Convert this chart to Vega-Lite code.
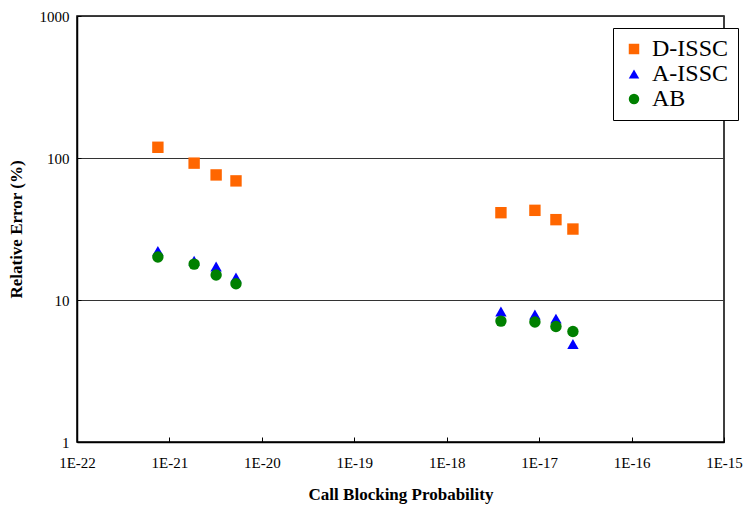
{
  "$schema": "https://vega.github.io/schema/vega-lite/v6.json",
  "width": 647,
  "height": 426,
  "autosize": "none",
  "padding": {"left": 77, "top": 16, "right": 22, "bottom": 67},
  "background": "white",
  "config": {
    "font": "Liberation Serif",
    "view": {"stroke": "black", "strokeWidth": 1.5}
  },
  "data": {
    "values": [
      {"series": "D-ISSC", "p": 7.5e-22, "err": 119},
      {"series": "D-ISSC", "p": 1.85e-21, "err": 92},
      {"series": "D-ISSC", "p": 3.2e-21, "err": 76},
      {"series": "D-ISSC", "p": 5.25e-21, "err": 69},
      {"series": "D-ISSC", "p": 3.86e-18, "err": 41.2},
      {"series": "D-ISSC", "p": 9.0e-18, "err": 42.8},
      {"series": "D-ISSC", "p": 1.52e-17, "err": 36.8},
      {"series": "D-ISSC", "p": 2.32e-17, "err": 31.6},
      {"series": "A-ISSC", "p": 7.5e-22, "err": 22.2},
      {"series": "A-ISSC", "p": 1.85e-21, "err": 18.9},
      {"series": "A-ISSC", "p": 3.2e-21, "err": 17.2},
      {"series": "A-ISSC", "p": 5.25e-21, "err": 14.4},
      {"series": "A-ISSC", "p": 3.86e-18, "err": 8.3},
      {"series": "A-ISSC", "p": 9.0e-18, "err": 7.9},
      {"series": "A-ISSC", "p": 1.52e-17, "err": 7.4},
      {"series": "A-ISSC", "p": 2.32e-17, "err": 4.9},
      {"series": "AB", "p": 7.5e-22, "err": 20.1},
      {"series": "AB", "p": 1.85e-21, "err": 17.9},
      {"series": "AB", "p": 3.2e-21, "err": 15.0},
      {"series": "AB", "p": 5.25e-21, "err": 13.0},
      {"series": "AB", "p": 3.86e-18, "err": 7.1},
      {"series": "AB", "p": 9.0e-18, "err": 7.0},
      {"series": "AB", "p": 1.52e-17, "err": 6.5},
      {"series": "AB", "p": 2.32e-17, "err": 6.0}
    ]
  },
  "mark": {"type": "point", "filled": true, "opacity": 1, "size": 130},
  "encoding": {
    "x": {
      "field": "p",
      "type": "quantitative",
      "scale": {"type": "log", "domain": [1e-22, 1e-15], "nice": false},
      "axis": {
        "title": "Call Blocking Probability",
        "titleFont": "Liberation Serif",
        "titleFontSize": 17,
        "titleFontWeight": "bold",
        "titleColor": "black",
        "titlePadding": 16,
        "values": [1e-22, 1e-21, 1e-20, 1e-19, 1e-18, 1e-17, 1e-16, 1e-15],
        "labelExpr": "'1E' + round(log(datum.value)/LN10)",
        "labelFont": "Liberation Serif",
        "labelFontSize": 15,
        "labelColor": "black",
        "labelPadding": 18,
        "tickSize": -5,
        "tickColor": "black",
        "domainColor": "black",
        "domainWidth": 1.5,
        "grid": false,
        "labelFlush": false
      }
    },
    "y": {
      "field": "err",
      "type": "quantitative",
      "scale": {"type": "log", "domain": [1, 1000], "nice": false},
      "axis": {
        "title": "Relative Error (%)",
        "titleFont": "Liberation Serif",
        "titleFontSize": 17,
        "titleFontWeight": "bold",
        "titleColor": "black",
        "titlePadding": 14,
        "values": [1, 10, 100, 1000],
        "format": "d",
        "labelFont": "Liberation Serif",
        "labelFontSize": 15,
        "labelColor": "black",
        "labelPadding": 12,
        "tickSize": -4,
        "tickColor": "black",
        "domainColor": "black",
        "domainWidth": 1.5,
        "grid": true,
        "gridColor": "#333333",
        "gridWidth": 1,
        "labelFlush": false
      }
    },
    "color": {
      "field": "series",
      "type": "nominal",
      "scale": {"domain": ["D-ISSC", "A-ISSC", "AB"], "range": ["#FF6600", "#0000FF", "#008000"]},
      "legend": {
        "title": null,
        "orient": "none",
        "legendX": 536,
        "legendY": 12,
        "strokeColor": "black",
        "fillColor": "white",
        "padding": 9,
        "labelFont": "Liberation Serif",
        "labelFontSize": 24,
        "labelColor": "black",
        "symbolSize": 110,
        "rowPadding": 1,
        "labelOffset": 6
      }
    },
    "shape": {
      "field": "series",
      "type": "nominal",
      "scale": {"domain": ["D-ISSC", "A-ISSC", "AB"], "range": ["square", "triangle-up", "circle"]},
      "legend": null
    }
  }
}
